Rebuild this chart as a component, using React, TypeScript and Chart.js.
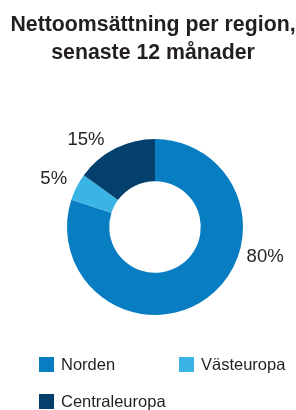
import React, { useEffect, useRef } from "react";
import { Chart, registerables } from "chart.js";

Chart.register(...registerables);

const TITLE_LINES = ["Nettoomsättning per region,", "senaste 12 månader"];
const REGIONS = ["Norden", "Västeuropa", "Centraleuropa"];
const SHARES = [80, 5, 15];
const COLORS = ["#087dc2", "#3ab4e5", "#03406d"];

const FONT = '"Liberation Sans", Arial, Helvetica, sans-serif';
const TEXT = "#231f20";

const outsideLabels = {
  id: "outsideLabels",
  afterDatasetsDraw(chart: any, _args: any, opts: any) {
    const ctx = chart.ctx;
    const meta = chart.getDatasetMeta(0);
    ctx.save();
    ctx.font = `${opts.size}px ${FONT}`;
    ctx.fillStyle = TEXT;
    ctx.textAlign = "center";
    ctx.textBaseline = "middle";
    meta.data.forEach((arc: any, i: number) => {
      const p = arc.getProps(["x", "y", "startAngle", "endAngle", "outerRadius"], true);
      const mid = (p.startAngle + p.endAngle) / 2 + ((opts.shifts[i] || 0) * Math.PI) / 180;
      const r = p.outerRadius + opts.gaps[i];
      const x = p.x + Math.cos(mid) * r;
      const y = p.y + Math.sin(mid) * r;
      ctx.fillText(`${chart.data.datasets[0].data[i]}%`, x, y);
    });
    ctx.restore();
  },
};

export default function App() {
  const ref = useRef<HTMLCanvasElement>(null);
  useEffect(() => {
    const chart = new Chart(ref.current!, {
      type: "doughnut",
      data: {
        labels: REGIONS,
        datasets: [
          {
            data: SHARES,
            backgroundColor: COLORS,
            borderWidth: 0,
          },
        ],
      },
      options: {
        animation: false,
        responsive: false,
        cutout: "52%",
        layout: { padding: { left: 67, right: 53, top: 139, bottom: 95 } },
        plugins: {
          legend: { display: false },
          title: { display: false },
          tooltip: { enabled: false },
          outsideLabels: { size: 18.5, shifts: [-39, -1.7, -11.4], gaps: [26, 24, 23] },
        } as any,
      },
      plugins: [outsideLabels],
    });
    return () => chart.destroy();
  }, []);

  return (
    <div style={{ position: "absolute", left: 0, top: 0, width: 296, height: 410, background: "#fff", overflow: "hidden" }}>
      <canvas ref={ref} width={296} height={410} style={{ position: "absolute", left: 0, top: 0 }} />
      <div
        style={{
          position: "absolute",
          left: 5,
          top: 11,
          width: 296,
          textAlign: "center",
          fontFamily: FONT,
          fontWeight: "bold",
          fontSize: 21.3,
          lineHeight: "27.5px",
          color: TEXT,
          whiteSpace: "nowrap",
        }}
      >
        {TITLE_LINES.map((t) => (
          <div key={t}>{t}</div>
        ))}
      </div>
      <div style={{ position: "absolute", left: 39, top: 357, width: 280, display: "flex", flexWrap: "wrap" }}>
        {REGIONS.map((r, i) => (
          <div key={r} style={{ width: 140, height: 37, display: "flex", alignItems: "flex-start" }}>
            <span style={{ display: "inline-block", width: 15, height: 15, background: COLORS[i], flex: "none" }} />
            <span
              style={{
                marginLeft: 7,
                fontFamily: FONT,
                fontSize: 16.5,
                lineHeight: "15px",
                color: TEXT,
                whiteSpace: "nowrap",
              }}
            >
              {r}
            </span>
          </div>
        ))}
      </div>
    </div>
  );
}
